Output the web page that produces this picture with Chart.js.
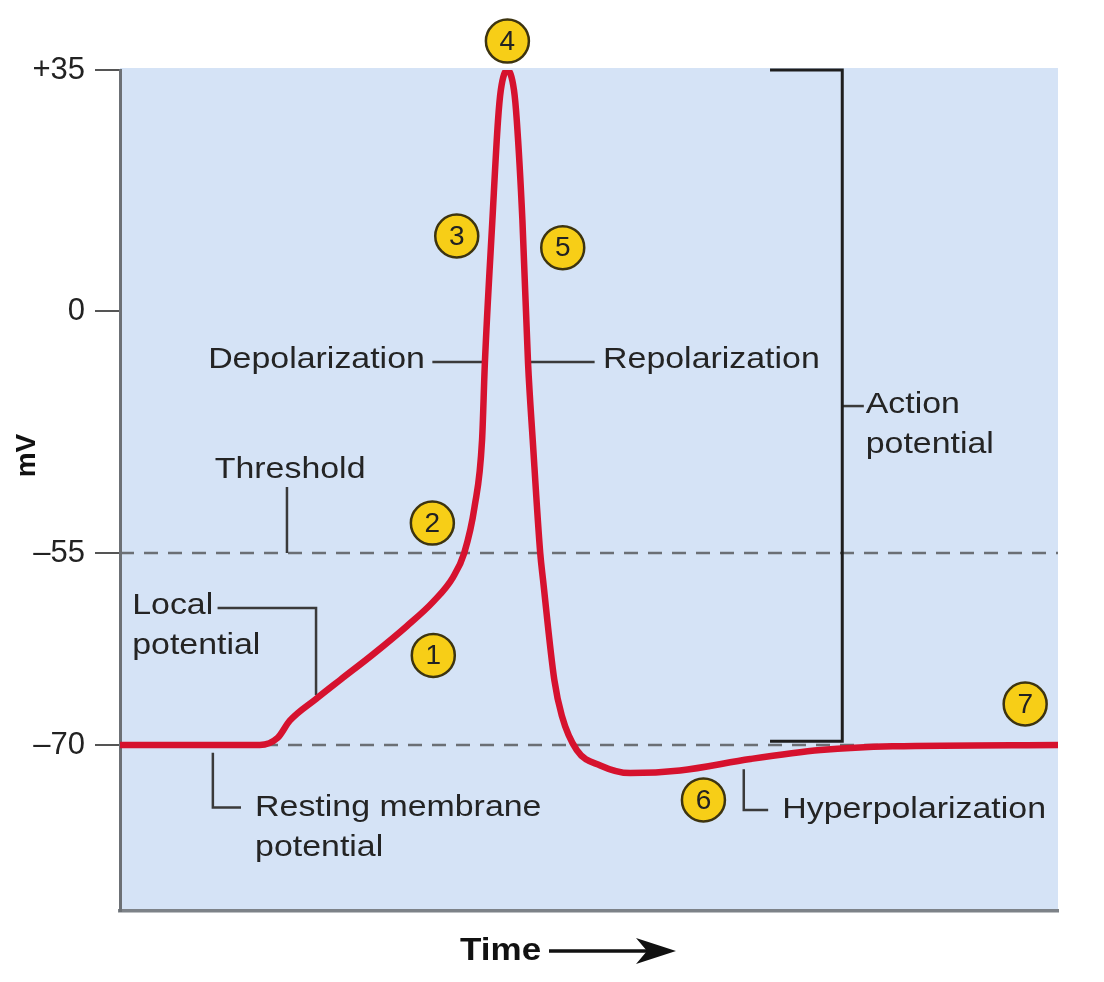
<!DOCTYPE html>
<html lang="en">
<head>
    <meta charset="UTF-8">
    <title>Action potential</title>
    <script src="https://cdn.jsdelivr.net/npm/chart.js"></script>
    <style>
        body { margin: 0; background: #fff; }
        canvas { display: block; }
    </style>
</head>
<body>
    <canvas id="apChart" width="1104" height="982"></canvas>

    <script>
        // time (arbitrary units, 0-100) and membrane potential (mV)
        const timeUnits = [0, 8.5, 14.9, 16.8, 18.1, 20.9, 23.5, 27.0, 30.6, 33.4, 35.5, 36.7, 37.8, 38.6, 38.9,
            39.7, 40.3, 40.6, 41.3, 42.0, 42.3, 42.9, 43.5, 44.0, 44.8, 45.1, 46.3, 47.1, 48.7, 51.2, 54.4,
            59.7, 67.2, 74.7, 82.4, 100];
        const membraneMv = [-70, -70, -70, -69.45, -68.1, -66.4, -64.9, -62.9, -60.7, -58.8, -56.9, -55, -44.5, -29.3, -11.8,
            13.2, 27.7, 32.1, 35, 32.1, 27.7, 13.2, -11.8, -29.3, -55, -57.1, -64.9, -67.7, -70.4, -71.6, -72.2,
            -72.0, -71.1, -70.4, -70.1, -70];
        const yTicks = [35, 0, -55, -70];
        const thresholdMv = -55;
        const restingMv = -70;

        // the mV axis is not linear: each break gets its own share of the height
        const axisBreaks = [35, 0, -55, -70, -83];
        const axisShares = [0, 0.2866, 0.5743, 0.8026, 1];

        class PiecewiseScale extends Chart.LinearScale {
            getPixelForValue(value) {
                let i = 0;
                while (i < axisBreaks.length - 2 && value < axisBreaks[i + 1]) i++;
                let t = (value - axisBreaks[i]) / (axisBreaks[i + 1] - axisBreaks[i]);
                let share = axisShares[i] + t * (axisShares[i + 1] - axisShares[i]);
                return this.top + share * this.height;
            }
            getValueForPixel(pixel) {
                let share = (pixel - this.top) / this.height;
                let i = 0;
                while (i < axisShares.length - 2 && share > axisShares[i + 1]) i++;
                let t = (share - axisShares[i]) / (axisShares[i + 1] - axisShares[i]);
                return axisBreaks[i] + t * (axisBreaks[i + 1] - axisBreaks[i]);
            }
        }
        PiecewiseScale.id = 'piecewise';
        PiecewiseScale.defaults = Chart.LinearScale.defaults;
        Chart.register(PiecewiseScale);

        // annotations, placed in time units / mV
        const markers = [
            {n: '1', x: 33.4, mv: -63.0},
            {n: '2', x: 33.3, mv: -48.2},
            {n: '3', x: 35.9, mv: 10.9},
            {n: '4', x: 41.3, mv: 39.2},
            {n: '5', x: 47.2, mv: 9.2},
            {n: '6', x: 62.2, mv: -74.3},
            {n: '7', x: 96.5, mv: -66.8}
        ];
        const notes = [
            {lines: ['Threshold'], x: 10.1, mv: -36.1, align: 'left'},
            {lines: ['Local', 'potential'], x: 1.3, mv: -59.1, align: 'left'},
            {lines: ['Resting membrane', 'potential'], x: 14.4, mv: -74.9, align: 'left'},
            {lines: ['Depolarization'], x: 32.5, mv: -11.1, align: 'right'},
            {lines: ['Repolarization'], x: 51.5, mv: -11.1, align: 'left'},
            {lines: ['Action', 'potential'], x: 79.5, mv: -21.4, align: 'left'},
            {lines: ['Hyperpolarization'], x: 70.6, mv: -75.1, align: 'left'}
        ];
        const leaders = [
            [[17.8, -40], [17.8, -55]],
            [[10.4, -59.3], [20.9, -59.3], [20.9, -66.1]],
            [[9.9, -70.6], [9.9, -74.9], [12.9, -74.9]],
            [[33.3, -11.6], [38.8, -11.6]],
            [[43.7, -11.6], [50.6, -11.6]],
            [[77.0, -21.6], [79.3, -21.6]],
            [[66.5, -71.9], [66.5, -75.1], [69.1, -75.1]]
        ];
        const bracket = [[69.3, 35], [77.0, 35], [77.0, -69.7], [69.3, -69.7]];

        function wideText(ctx, text, x, y, align) {
            ctx.save();
            ctx.translate(x, y);
            ctx.scale(1.13, 1);
            ctx.textAlign = align;
            ctx.fillText(text, 0, 0);
            ctx.restore();
        }

        const diagram = {
            id: 'diagram',
            beforeDraw(chart) {
                let {ctx, chartArea: a} = chart;
                ctx.save();
                ctx.fillStyle = '#d5e3f6';
                ctx.fillRect(a.left, a.top - 2, a.right - a.left, a.bottom - a.top + 2);
                ctx.restore();
            },
            beforeDatasetsDraw(chart) {
                let {ctx, chartArea: a, scales: {x, y}} = chart;
                ctx.save();
                ctx.strokeStyle = '#6b6f75';
                ctx.lineWidth = 2.5;
                ctx.setLineDash([14, 10]);
                [thresholdMv, restingMv].forEach(v => {
                    ctx.beginPath();
                    ctx.moveTo(a.left, y.getPixelForValue(v));
                    ctx.lineTo(a.right, y.getPixelForValue(v));
                    ctx.stroke();
                });
                ctx.setLineDash([]);

                ctx.strokeStyle = '#3a3a3a';
                ctx.lineWidth = 2.5;
                leaders.forEach(path => {
                    ctx.beginPath();
                    path.forEach((p, i) => {
                        let px = x.getPixelForValue(p[0]), py = y.getPixelForValue(p[1]);
                        i ? ctx.lineTo(px, py) : ctx.moveTo(px, py);
                    });
                    ctx.stroke();
                });

                ctx.strokeStyle = '#1e1e1e';
                ctx.lineWidth = 3;
                ctx.beginPath();
                bracket.forEach((p, i) => {
                    let px = x.getPixelForValue(p[0]), py = y.getPixelForValue(p[1]);
                    i ? ctx.lineTo(px, py) : ctx.moveTo(px, py);
                });
                ctx.stroke();
                ctx.restore();
            },
            afterDatasetsDraw(chart) {
                let {ctx, chartArea: a, scales: {x, y}} = chart;
                ctx.save();
                ctx.fillStyle = '#242424';
                ctx.font = '30px "Liberation Sans", Arial, sans-serif';
                ctx.textBaseline = 'middle';
                notes.forEach(nt => {
                    let px = x.getPixelForValue(nt.x), py = y.getPixelForValue(nt.mv);
                    nt.lines.forEach((line, i) => wideText(ctx, line, px, py + i * 40, nt.align));
                });

                markers.forEach(m => {
                    let px = x.getPixelForValue(m.x), py = y.getPixelForValue(m.mv);
                    ctx.beginPath();
                    ctx.arc(px, py, 21.5, 0, Math.PI * 2);
                    ctx.fillStyle = '#f7ce17';
                    ctx.fill();
                    ctx.lineWidth = 2.5;
                    ctx.strokeStyle = '#3d3410';
                    ctx.stroke();
                    ctx.fillStyle = '#222';
                    ctx.font = '28px "Liberation Sans", Arial, sans-serif';
                    ctx.textAlign = 'center';
                    ctx.fillText(m.n, px, py + 1);
                });

                // axis titles
                ctx.fillStyle = '#111';
                ctx.font = 'bold 28px "Liberation Sans", Arial, sans-serif';
                ctx.save();
                ctx.translate(27, (a.top + a.bottom) / 2 - 35);
                ctx.rotate(-Math.PI / 2);
                ctx.textAlign = 'center';
                ctx.fillText('mV', 0, 0);
                ctx.restore();

                let ty = a.bottom + 40;
                ctx.font = 'bold 31px "Liberation Sans", Arial, sans-serif';
                wideText(ctx, 'Time', 460, ty, 'left');
                ctx.strokeStyle = '#111';
                ctx.lineWidth = 3.5;
                ctx.beginPath();
                ctx.moveTo(549, ty);
                ctx.lineTo(650, ty);
                ctx.stroke();
                ctx.beginPath();
                ctx.moveTo(676, ty);
                ctx.lineTo(636, ty - 13);
                ctx.lineTo(647, ty);
                ctx.lineTo(636, ty + 13);
                ctx.closePath();
                ctx.fill();
                ctx.restore();
            }
        };

        new Chart(document.getElementById('apChart'), {
            type: 'line',
            data: {
                datasets: [{
                    data: timeUnits.map((t, i) => ({x: t, y: membraneMv[i]})),
                    borderColor: '#d6122e',
                    borderWidth: 6.5,
                    pointRadius: 0,
                    cubicInterpolationMode: 'monotone',
                    borderCapStyle: 'round',
                    borderJoinStyle: 'round'
                }]
            },
            options: {
                responsive: false,
                animation: false,
                layout: {padding: {top: 70, right: 46, left: 0, bottom: 0}},
                plugins: {legend: {display: false}, tooltip: {enabled: false}},
                scales: {
                    x: {
                        type: 'linear',
                        min: 0,
                        max: 100,
                        grid: {display: false},
                        ticks: {display: false},
                        border: {display: true, color: '#7d8288', width: 3.5},
                        afterFit: s => { s.height = 71; }
                    },
                    y: {
                        type: 'piecewise',
                        min: -83,
                        max: 35,
                        afterBuildTicks: axis => { axis.ticks = yTicks.map(v => ({value: v})); },
                        afterFit: s => { s.width = 120; },
                        grid: {drawOnChartArea: false, drawTicks: true, tickLength: 25, tickColor: '#555', lineWidth: 2},
                        border: {display: true, color: '#6c7075', width: 3},
                        ticks: {
                            padding: 10,
                            color: '#222',
                            font: {size: 31, family: '"Liberation Sans", Arial, sans-serif'},
                            callback: v => v > 0 ? '+' + v : (v < 0 ? '\u2013' + (-v) : '0')
                        }
                    }
                }
            },
            plugins: [diagram]
        });
    </script>
</body>
</html>
